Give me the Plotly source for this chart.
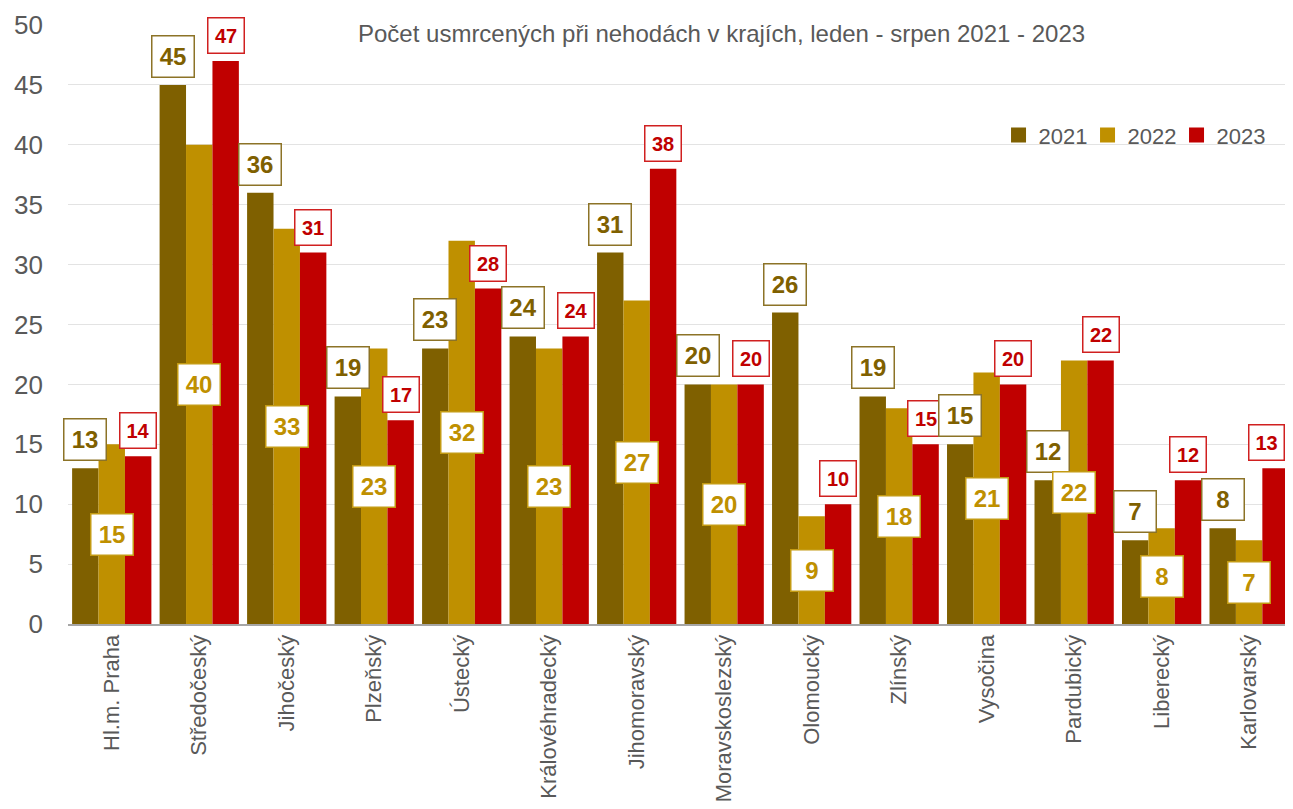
import plotly.graph_objects as go

regions = ["Hl.m. Praha", "Středočeský", "Jihočeský", "Plzeňský", "Ústecký",
           "Královéhradecký", "Jihomoravský", "Moravskoslezský", "Olomoucký",
           "Zlínský", "Vysočina", "Pardubický", "Liberecký", "Karlovarský"]
v2021 = [13, 45, 36, 19, 23, 24, 31, 20, 26, 19, 15, 12, 7, 8]
v2022 = [15, 40, 33, 23, 32, 23, 27, 20, 9, 18, 21, 22, 8, 7]
v2023 = [14, 47, 31, 17, 28, 24, 38, 20, 10, 15, 20, 22, 12, 13]
years = ["2021", "2022", "2023"]
title_text = "Počet usmrcených při nehodách v krajích, leden - srpen 2021 - 2023"

FONT = "Liberation Sans Narrow, Arial Narrow, Liberation Sans, Arial, sans-serif"
GRAY = "#595959"
colors = ["#7F6000", "#BF9000", "#C00000"]
box_colors = ["#8C7327", "#C39A12", "#D02020"]
W = 0.302
offsets = [-1.5 * W, -0.5 * W, 0.5 * W]

idx = list(range(len(regions)))
fig = go.Figure()
series = [v2021, v2022, v2023]
for k in range(3):
    fig.add_trace(go.Bar(
        x=idx, y=series[k], name=years[k], width=W, offset=offsets[k],
        marker=dict(color=colors[k], line=dict(width=0)), showlegend=False,
    ))
# legend entries with square markers
for k in range(3):
    fig.add_trace(go.Scatter(
        x=[None], y=[None], mode="markers", name=years[k],
        marker=dict(symbol="square", size=15, color=colors[k]), showlegend=True,
    ))

annotations = []
last = len(idx) - 1
for i in idx:
    annotations.append(dict(
        x=i + offsets[0] + W / 2, y=v2021[i], xref="x", yref="y",
        text=f"<b>{v2021[i]}</b>", showarrow=False, yanchor="bottom", yshift=7,
        font=dict(family=FONT, size=24, color=colors[0]),
        bgcolor="white", bordercolor=box_colors[0], borderwidth=1.5, borderpad=0,
        width=41, height=40))
    annotations.append(dict(
        x=i + offsets[1] + W / 2, y=v2022[i] / 2, xref="x", yref="y",
        text=f"<b>{v2022[i]}</b>", showarrow=False, yanchor="middle",
        font=dict(family=FONT, size=24, color=colors[1]),
        bgcolor="white", bordercolor=box_colors[1], borderwidth=1.5, borderpad=0,
        width=41, height=40))
    annotations.append(dict(
        x=i + offsets[2] + W / 2, y=v2023[i], xref="x", yref="y",
        text=f"<b>{v2023[i]}</b>", showarrow=False, yanchor="bottom", yshift=7,
        xshift=-9 if i == last else 0,
        font=dict(family=FONT, size=20, color=colors[2]),
        bgcolor="white", bordercolor=box_colors[2], borderwidth=1.5, borderpad=0,
        width=34 if i == last else 35, height=34))

annotations.append(dict(
    x=0.537, y=1.0, xref="paper", yref="paper", text=title_text, showarrow=False,
    xanchor="center", yanchor="middle", yshift=-8,
    font=dict(family=FONT, size=24, color=GRAY)))

fig.update_layout(
    width=1277, height=793,
    margin=dict(l=60, r=0, t=17, b=177),
    paper_bgcolor="white", plot_bgcolor="white",
    barmode="overlay",
    showlegend=True,
    legend=dict(orientation="h", x=0.984, y=0.816, xanchor="right", yanchor="middle",
                font=dict(family=FONT, size=22, color=GRAY),
                bgcolor="rgba(0,0,0,0)", itemwidth=30, traceorder="normal",
                entrywidth=44, entrywidthmode="pixels"),
    xaxis=dict(tickmode="array", tickvals=idx, ticktext=regions, range=[-0.5, 13.41],
               tickangle=-90, tickfont=dict(family=FONT, size=22, color=GRAY),
               showgrid=False, showline=True, linecolor="#A6A6A6", linewidth=2,
               ticks="", automargin=False, fixedrange=True),
    yaxis=dict(range=[0, 50], tickmode="linear", tick0=0, dtick=5,
               tickfont=dict(family=FONT, size=26, color=GRAY),
               showgrid=True, gridcolor="#E3E3E3", gridwidth=1,
               zeroline=False, showline=False, ticks="", ticklabelstandoff=24,
               automargin=False),
    annotations=annotations,
    font=dict(family=FONT),
)

fig.write_html("out.html")
